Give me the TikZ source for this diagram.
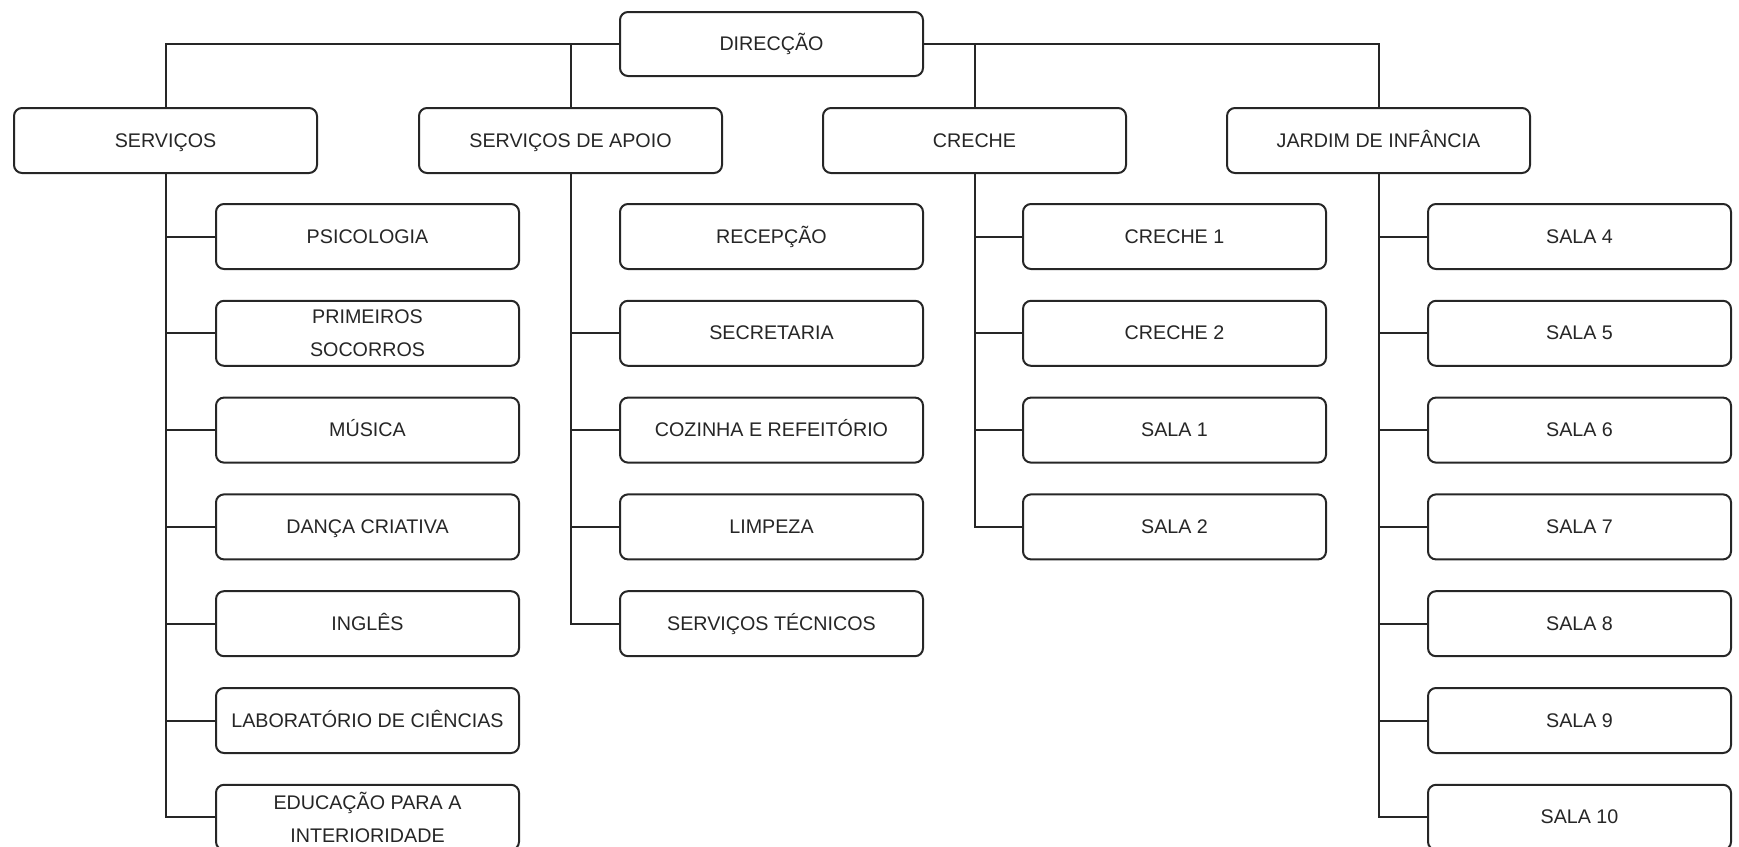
\documentclass[tikz,border=0pt]{standalone}
\usepackage{fontspec}
\setmainfont{Liberation Sans}
\begin{document}
\begin{tikzpicture}[x=0.5pt,y=-0.5pt,
  orgbox/.style={draw=black!85, line width=1pt, rounded corners=4pt, fill=white,
    minimum width=151.5pt, minimum height=32.5pt, inner sep=0pt, align=center,
    text=black!85, font=\fontsize{9.85}{16.5}\selectfont,
    text height=7pt, text depth=0.5pt},
  twoline/.style={text height=, text depth=},
  link/.style={draw=black!85, line width=1pt}]
\useasboundingbox (0,0) rectangle (1739,846);
\clip (0,0) rectangle (1739,846);
% top
\node[orgbox, minimum height=32pt] (dir) at (771.5,44) {DIRECÇÃO};
% level 1
\node[orgbox] (serv) at (165.5,140.5) {SERVIÇOS};
\node[orgbox] (sda)  at (570.5,140.5) {SERVIÇOS DE APOIO};
\node[orgbox] (cre)  at (974.5,140.5) {CRECHE};
\node[orgbox] (jar)  at (1378.5,140.5) {JARDIM DE INFÂNCIA};
% serviços children
\node[orgbox] (s1) at (367.5,236.5) {PSICOLOGIA};
\node[orgbox, twoline] (s2) at (367.5,333.3) {PRIMEIROS\\SOCORROS};
\node[orgbox] (s3) at (367.5,430.1) {MÚSICA};
\node[orgbox] (s4) at (367.5,526.9) {DANÇA CRIATIVA};
\node[orgbox] (s5) at (367.5,623.7) {INGLÊS};
\node[orgbox] (s6) at (367.5,720.5) {LABORATÓRIO DE CIÊNCIAS};
\node[orgbox, twoline] (s7) at (367.5,817.3) {EDUCAÇÃO PARA A\\INTERIORIDADE};
% serviços de apoio children
\node[orgbox] (a1) at (771.5,236.5) {RECEPÇÃO};
\node[orgbox] (a2) at (771.5,333.3) {SECRETARIA};
\node[orgbox] (a3) at (771.5,430.1) {COZINHA E REFEITÓRIO};
\node[orgbox] (a4) at (771.5,526.9) {LIMPEZA};
\node[orgbox] (a5) at (771.5,623.7) {SERVIÇOS TÉCNICOS};
% creche children
\node[orgbox] (c1) at (1174.5,236.5) {CRECHE 1};
\node[orgbox] (c2) at (1174.5,333.3) {CRECHE 2};
\node[orgbox] (c3) at (1174.5,430.1) {SALA 1};
\node[orgbox] (c4) at (1174.5,526.9) {SALA 2};
% jardim children
\node[orgbox] (j1) at (1579.5,236.5) {SALA 4};
\node[orgbox] (j2) at (1579.5,333.3) {SALA 5};
\node[orgbox] (j3) at (1579.5,430.1) {SALA 6};
\node[orgbox] (j4) at (1579.5,526.9) {SALA 7};
\node[orgbox] (j5) at (1579.5,623.7) {SALA 8};
\node[orgbox] (j6) at (1579.5,720.5) {SALA 9};
\node[orgbox] (j7) at (1579.5,817.3) {SALA 10};
% top connectors
\draw[link] (dir.west) -| (serv.north);
\draw[link] (dir.east) -| (jar.north);
\draw[link] (sda.north |- dir.west) -- (sda.north);
\draw[link] (cre.north |- dir.east) -- (cre.north);
% children connectors
\foreach \c in {s1,s2,s3,s4,s5,s6,s7} \draw[link] (serv.south) |- (\c.west);
\foreach \c in {a2,a3,a4,a5} \draw[link] (sda.south) |- (\c.west);
\foreach \c in {c1,c2,c3,c4} \draw[link] (cre.south) |- (\c.west);
\foreach \c in {j1,j2,j3,j4,j5,j6,j7} \draw[link] (jar.south) |- (\c.west);
\end{tikzpicture}
\end{document}
